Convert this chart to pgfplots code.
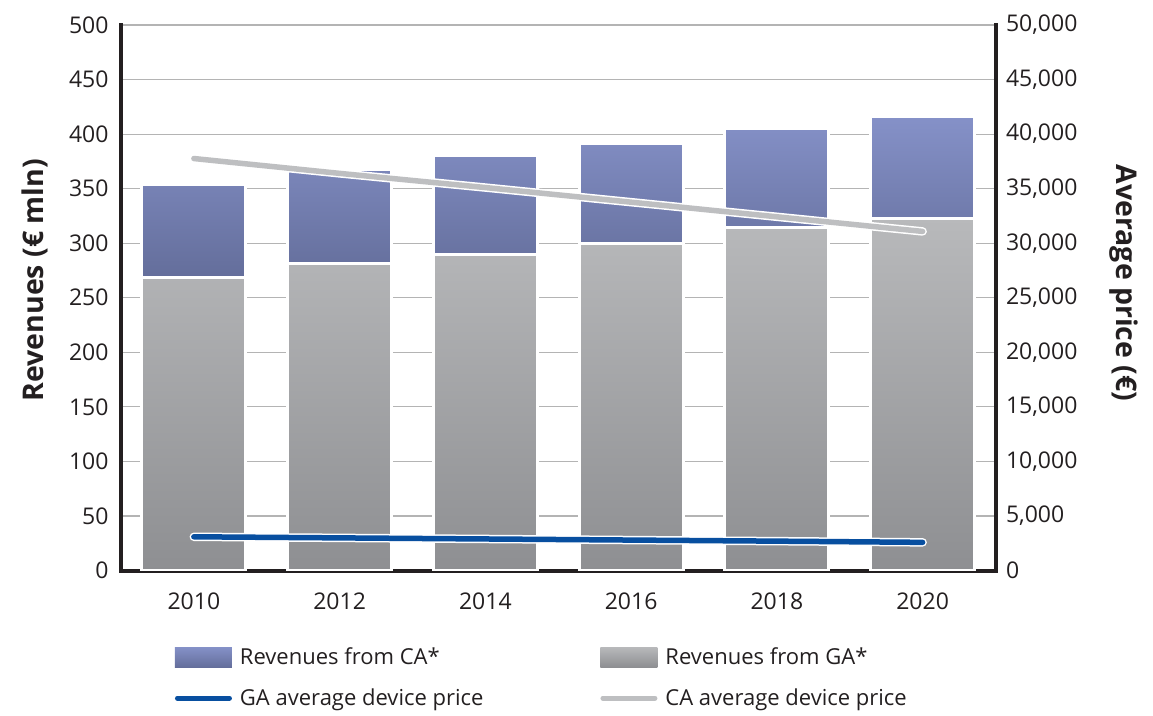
\documentclass[border=0pt]{standalone}
\usepackage{fontspec}
\setmainfont{Open Sans}
\usepackage{pgfplots}
\pgfplotsset{compat=1.18}
\definecolor{cabar1}{RGB}{133,145,200}
\definecolor{cabar2}{RGB}{100,110,155}
\definecolor{gabar1}{RGB}{184,185,187}
\definecolor{gabar2}{RGB}{142,143,146}
\definecolor{gablue}{RGB}{8,79,160}
\definecolor{caline}{RGB}{190,191,193}
\definecolor{gridc}{RGB}{180,180,180}
\definecolor{axisc}{RGB}{35,31,32}
\pgfplotsset{
  layers/mylayers/.define layer set={axis background,axis grid,main,axis ticks,axis lines,axis tick labels,axis descriptions,axis foreground}{},
}
\pgfplotstableread{
x ga ca
0 269 84.5
1 281 87
2 290 90
3 299.5 91.5
4 314 91.5
5 323 93
}\revtable
\pgfplotstableread{
x gaprice caprice
0 3090 37760
1 2990 36400
2 2890 35100
3 2790 33760
4 2690 32420
5 2580 31080
}\pricetable
\begin{document}
\begin{tikzpicture}
\begin{axis}[
  set layers=mylayers,
  at={(0,0)}, anchor=south west,
  scale only axis, width=874.5pt, height=545.5pt,
  xmin=-0.5, xmax=5.5, ymin=0, ymax=500,
  axis x line*=bottom, axis y line*=left,
  axis line style={line width=4pt, color=axisc, line cap=rect, -},
  xtick={0,...,5}, xticklabels={2010,2012,2014,2016,2018,2020},
  ytick={0,50,...,500},
  major tick length=0pt,
  ymajorgrids, grid style={line width=1.2pt, color=gridc},
  tick label style={font=\fontsize{23}{27}\selectfont, text=axisc},
  /pgf/number format/assume math mode=true,
  yticklabel style={xshift=-9pt}, xticklabel style={yshift=-19pt},
  ylabel={\textbf{Revenues (€ mln)}},
  ylabel style={at={(axis description cs:-0.098,0.532)}, anchor=center, font=\fontsize{28.5}{32}\selectfont, text=axisc},
  ybar stacked, bar width=104pt,
]
\addplot[draw=white, line width=3pt, top color=gabar1, bottom color=gabar2] table[x=x, y=ga] {\revtable};
\addplot[draw=white, line width=3pt, top color=cabar1, bottom color=cabar2] table[x=x, y=ca] {\revtable};
\end{axis}
\begin{axis}[
  set layers=mylayers,
  at={(0,0)}, anchor=south west,
  scale only axis, width=874.5pt, height=545.5pt,
  xmin=-0.5, xmax=5.5, ymin=0, ymax=50000,
  axis x line=none, axis y line*=right,
  axis line style={line width=4pt, color=axisc, line cap=rect, -},
  ytick={0,5000,...,50000},
  scaled y ticks=false,
  major tick length=0pt,
  tick label style={font=\fontsize{23}{27}\selectfont, text=axisc},
  /pgf/number format/.cd, 1000 sep={,}, assume math mode=true,
  /pgfplots/.cd,
  yticklabel style={xshift=7pt},
  ylabel={\textbf{Average price (€)}},
  ylabel style={at={(axis description cs:1.147,0.527)}, anchor=center, rotate=180, font=\fontsize{28.5}{32}\selectfont, text=axisc},
  legend columns=2,
  legend cell align=left,
  legend style={at={(axis description cs:0.0617,-0.1403)}, anchor=north west, draw=none, fill=none, inner sep=0pt, outer sep=0pt,
    font=\fontsize{22}{26}\selectfont, text=axisc, row sep=22pt,
    nodes={inner sep=0pt},
    /tikz/every odd column/.append style={column sep=8pt},
    /tikz/every even column/.append style={column sep=117pt}},
]
\addlegendimage{legend image code/.code={\path[draw=none, top color=cabar1, bottom color=cabar2] (0pt,-10pt) rectangle (57pt,10pt);}}
\addlegendentry{Revenues from CA*}
\addlegendimage{legend image code/.code={\path[draw=none, top color=gabar1, bottom color=gabar2] (0pt,-10pt) rectangle (57pt,10pt);}}
\addlegendentry{Revenues from GA*}
\addlegendimage{legend image code/.code={\draw[line width=5pt, line cap=round, color=gablue] (2.5pt,0pt) -- (54.5pt,0pt);}}
\addlegendentry{GA average device price}
\addlegendimage{legend image code/.code={\draw[line width=5pt, line cap=round, color=caline] (2.5pt,0pt) -- (54.5pt,0pt);}}
\addlegendentry{CA average device price}
\addplot[white, line width=8.5pt, line cap=round, mark=none, forget plot] table[x=x, y=caprice] {\pricetable};
\addplot[caline, line width=5.5pt, line cap=round, mark=none, forget plot] table[x=x, y=caprice] {\pricetable};
\addplot[white, line width=8.5pt, line cap=round, mark=none, forget plot] table[x=x, y=gaprice] {\pricetable};
\addplot[gablue, line width=5.5pt, line cap=round, mark=none, forget plot] table[x=x, y=gaprice] {\pricetable};
\end{axis}
\pgfresetboundingbox
\path[use as bounding box] (-121pt,-144.5pt) rectangle (1032pt,570.5pt);
\end{tikzpicture}
\end{document}
